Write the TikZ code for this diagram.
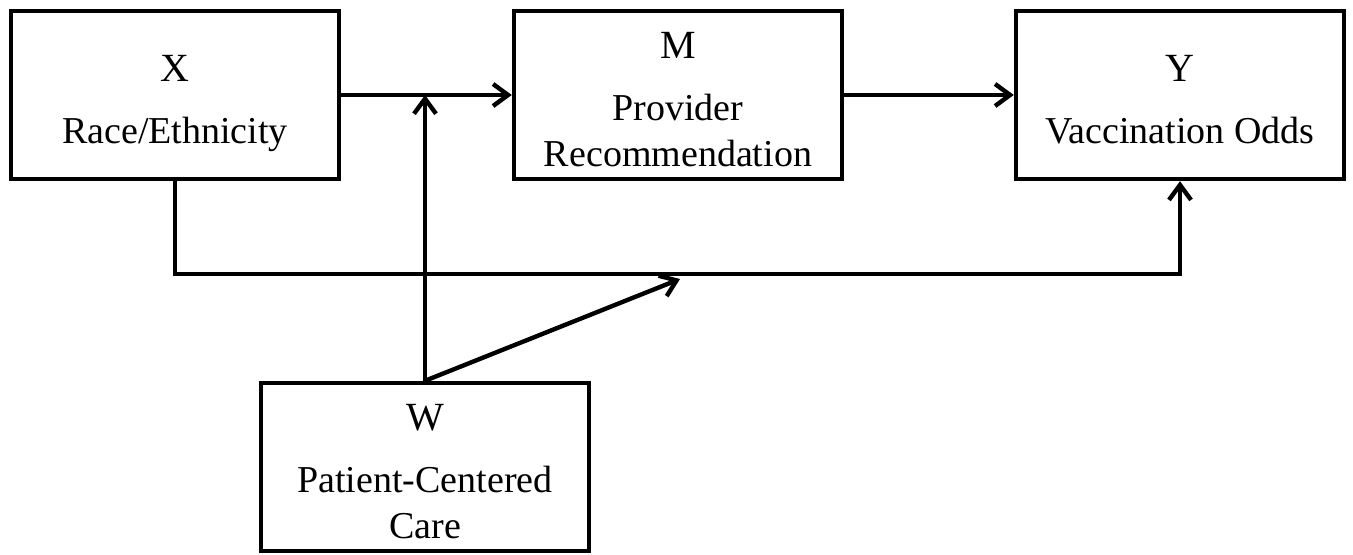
\documentclass[tikz,border=0pt]{standalone}
\usepackage{fontspec}
\setmainfont{Liberation Serif}
\usetikzlibrary{arrows.meta,positioning,calc}

\newcommand{\varname}[1]{{\fontsize{20}{20}\selectfont\rule{0pt}{17.5pt}#1}\\[8pt]}

\begin{document}
\begin{tikzpicture}[x=0.5pt, y=-0.5pt,
    box/.style={draw=black, line width=2.2pt, minimum width=164pt, minimum height=84pt,
      align=center, text depth=0pt, font=\fontsize{19}{23}\selectfont},
    arr/.style={line width=2.2pt, -{Straight Barb[length=7.5pt,width=11pt]}}]
  \useasboundingbox (0,0) rectangle (1353,555);

  % Variable boxes
  \node[box] (X) at (175,95) {\varname{X}Race/Ethnicity};
  \node[box] (M) at (678,95) {\varname{M}Provider\\Recommendation};
  \node[box] (Y) at (1180,95) {\varname{Y}Vaccination Odds};
  \node[box] (W) at (425,467) {\varname{W}Patient-Centered\\Care};

  % Path a and b
  \draw[arr] (X.east) -- (M.west);
  \draw[arr] (M.east) -- (Y.west);

  % Direct effect c'
  \draw[arr] (X.south) -- ++(0,93) -| (Y.south);

  % Moderation by W
  \coordinate (onA) at (W.north |- X.east);
  \coordinate (onC) at (680,279);
  \draw[arr] (W.north) -- (onA);
  \draw[arr] (W.north) -- (onC);
\end{tikzpicture}
\end{document}
